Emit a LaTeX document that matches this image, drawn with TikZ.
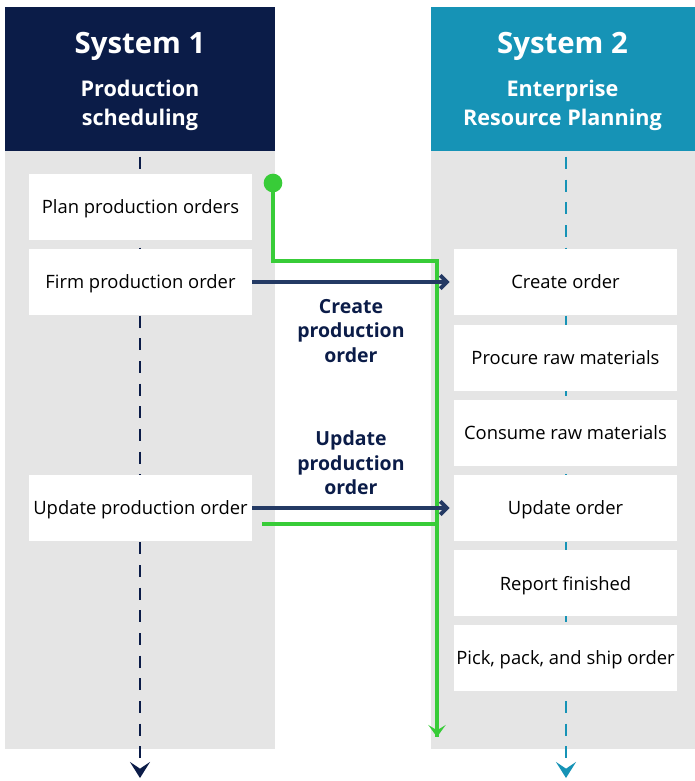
\documentclass[tikz,border=0pt]{standalone}
\usepackage{fontspec}
\setmainfont{Open Sans}
\usetikzlibrary{positioning, arrows.meta, calc}

\definecolor{sysnavy}{RGB}{11,28,72}
\definecolor{systeal}{RGB}{22,147,182}
\definecolor{lanegray}{RGB}{229,229,229}
\definecolor{msgnavy}{RGB}{36,58,100}
\definecolor{flowgreen}{RGB}{56,204,56}

\begin{document}
\begin{tikzpicture}[
    x=0.75pt, y=-0.75pt,
    header/.style={draw=none, rectangle, minimum width=202.5pt, minimum height=108pt, inner sep=0pt},
    lane/.style={draw=none, rectangle, fill=lanegray, minimum width=202.5pt, minimum height=448.5pt, inner sep=0pt},
    task/.style={draw=none, rectangle, fill=white, minimum width=167.25pt, minimum height=49.5pt, inner sep=0pt, text depth=0pt, align=center, font=\fontsize{13.8}{17}\selectfont},
    title_font/.style={font=\fontsize{22}{26}\selectfont\bfseries, text=white},
    sub_font/.style={font=\fontsize{16.2}{22.2}\selectfont\bfseries, text=white, align=center},
    msg_label/.style={font=\fontsize{14.6}{18.4}\selectfont\bfseries, text=sysnavy, align=center},
    msg_arrow/.style={-{Straight Barb[length=5pt, width=10pt]}, line width=3pt, msgnavy, shorten >=3pt},
    life_line/.style={line width=2pt, dash pattern=on 9pt off 8pt, -{Stealth[length=12pt, width=15pt, inset=5pt]}},
    flow_line/.style={line width=3pt, flowgreen}
]
\useasboundingbox (0,0) rectangle (694,781);

% 1. columns (header + gray lane)
\node[header, fill=sysnavy] (hdr1) at (140,79) {};
\node[header, fill=systeal] (hdr2) at (566,79) {};
\node[lane] (lane1) at (140,450) {};
\node[lane] (lane2) at (566,450) {};

\node[title_font] (sys1) at (140,46) {System 1};
\node[sub_font] (sub1) at (140,105.5) {Production\\scheduling};
\node[title_font] (sys2) at (562.5,46) {System 2};
\node[sub_font] (sub2) at (562.5,105.5) {Enterprise\\Resource Planning};

% 2. life lines
\coordinate (life1top) at (140,157);
\coordinate (life1end) at (140,778);
\coordinate (life2top) at (566,157);
\coordinate (life2end) at (566,778);
\draw[life_line, sysnavy] (life1top) -- (life1end);
\draw[life_line, systeal] (life2top) -- (life2end);

% 3. tasks of system 1
\node[task] (plan) at (140.5,207) {Plan production orders};
\node[task] (firm) at (140.5,282) {Firm production order};
\node[task] (upd1) at (140.5,508) {Update production order};

% 4. tasks of system 2
\node[task] (create) at (565.5,282) {Create order};
\node[task] (procure) at (565.5,358) {Procure raw materials};
\node[task] (consume) at (565.5,433) {Consume raw materials};
\node[task] (upd2) at (565.5,508) {Update order};
\node[task] (report) at (565.5,583) {Report finished};
\node[task] (ship) at (565.5,658) {Pick, pack, and ship order};

% 5. green flow
\node[circle, fill=flowgreen, inner sep=0pt, minimum size=14pt] (gdot) at (273,183) {};
\coordinate (gcorner) at (437,261);
\coordinate (gend) at (437,737);
\coordinate (gback) at (262,524);
\draw[flow_line] (gdot.center) |- (gcorner) -- (gend);
\draw[flow_line, -{Stealth[length=9pt, width=13pt, inset=4pt]}] (gcorner) -- (gend);
\draw[flow_line] (gback) -- (gback -| gcorner);

% 6. messages
\draw[msg_arrow] (firm) -- (create);
\draw[msg_arrow] (upd1) -- (upd2);
\node[msg_label] (lblcreate) at (351,331) {Create\\production\\order};
\node[msg_label] (lblupdate) at (351,463) {Update\\production\\order};

\end{tikzpicture}
\end{document}
